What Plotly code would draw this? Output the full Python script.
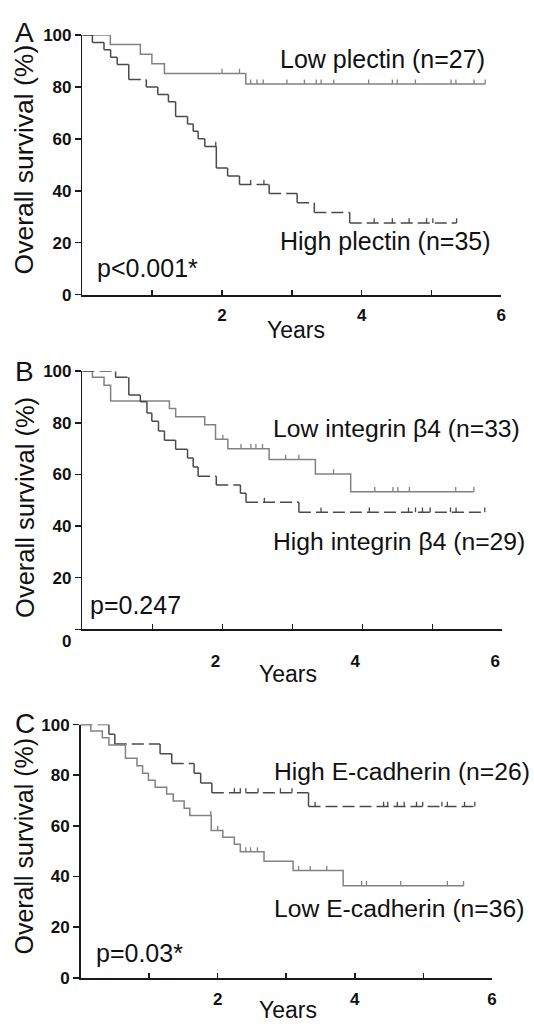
import plotly.graph_objects as go

W, H = 534, 1032

# ---------------- data (years, % survival) ----------------
# Panel A: plectin
A_low_t = [0.40, 0.83, 0.995, 1.175, 2.34]
A_low_s = [96.3, 92.6, 88.9, 85.2, 81.1]
A_low_end = 5.77
A_low_cens = [2.00, 2.25, 2.41, 2.50, 2.59, 2.93, 3.18, 3.35, 3.42, 3.60, 4.10,
              4.44, 4.51, 4.77, 5.28, 5.35, 5.61, 5.77]

A_high_t = [0.143, 0.309, 0.404, 0.498, 0.664, 0.915, 1.080, 1.232, 1.335, 1.506,
            1.587, 1.658, 1.753, 1.918, 2.08, 2.25, 2.675, 3.076, 3.322, 3.829]
A_high_s = [97.1, 94.3, 91.4, 88.6, 82.9, 80.0, 77.1, 74.3, 68.6, 65.7,
            62.9, 60.0, 57.1, 48.8, 45.7, 42.4, 39.0, 35.4, 31.6, 27.6]
A_high_end = 5.36
A_high_cens = [1.91, 2.41, 2.60, 4.18, 4.44, 4.68, 4.93, 5.02, 5.36]

# Panel B: integrin beta4
B_low_t = [0.143, 0.309, 0.403, 1.243, 1.333, 1.748, 1.902, 2.078, 2.668, 3.329, 3.834]
B_low_s = [97.7, 94.6, 88.5, 85.6, 82.4, 79.3, 73.6, 70.0, 65.8, 60.2, 53.3]
B_low_end = 5.594
B_low_cens = [2.007, 2.266, 2.408, 2.479, 2.574, 2.904, 3.093, 3.589, 4.178,
              4.438, 4.509, 4.673, 5.335, 5.594]

B_high_t = [0.474, 0.663, 0.828, 0.922, 0.992, 1.087, 1.172, 1.332, 1.502, 1.583,
            1.653, 1.913, 2.258, 2.338, 3.094]
B_high_s = [97.7, 90.8, 88.2, 83.8, 80.6, 76.8, 73.3, 69.8, 66.4, 62.9,
            59.3, 55.9, 52.7, 49.2, 45.4]
B_high_end = 5.75
B_high_cens = [2.60, 3.41, 4.10, 4.66, 4.76, 4.86, 4.97, 5.26, 5.34, 5.75]

# Panel C: E-cadherin
C_high_t = [0.414, 0.50, 1.16, 1.33, 1.656, 1.752, 1.915, 3.325]
C_high_s = [96.2, 92.3, 88.5, 84.6, 80.8, 76.9, 73.1, 67.7]
C_high_end = 5.75
C_high_cens = [2.243, 2.330, 2.411, 2.589, 2.915, 3.084, 3.42, 4.42, 4.48, 4.62,
               4.72, 4.90, 4.99, 5.27, 5.35, 5.60, 5.75]

C_low_t = [0.15, 0.318, 0.414, 0.655, 0.823, 0.905, 0.99, 1.088, 1.256, 1.352,
           1.511, 1.593, 1.906, 2.075, 2.243, 2.33, 2.676, 3.10, 3.83]
C_low_s = [97.5, 94.8, 91.9, 86.7, 83.7, 80.8, 78.0, 75.3, 72.6, 69.8,
           67.0, 64.1, 58.2, 55.5, 52.7, 49.8, 46.0, 42.4, 36.4]
C_low_end = 5.586
C_low_cens = [1.90, 2.00, 2.41, 2.48, 2.58, 3.18, 3.35, 3.59, 4.10, 4.17, 4.67, 5.35, 5.586]

x_tickvals = [1, 2, 3, 4, 5, 6]
x_ticktext = ["", "2", "", "4", "", "6"]
y_tickvals = [0, 20, 40, 60, 80, 100]

SOLID = "#828282"
DASHED = "#4a4a4a"
TXT = "#111111"
FONT = "Liberation Sans, Arial, sans-serif"

fig = go.Figure()


def step_value(t_ev, s_ev, t):
    v = 100.0
    for te, se in zip(t_ev, s_ev):
        if te <= t:
            v = se
    return v


def add_curve(t_ev, s_ev, t_end, cens, color, dashed, xa, ya, tick_h=1.8):
    common = dict(xaxis=xa, yaxis=ya, cliponaxis=False, showlegend=False, hoverinfo="skip")
    if dashed:
        hx, hy, vx, vy = [], [], [], []
        starts = [0.0] + t_ev
        ends = t_ev + [t_end]
        vals = [100.0] + s_ev
        for a, b, v in zip(starts, ends, vals):
            hx += [a, b, None]
            hy += [v, v, None]
        prev = 100.0
        for te, se in zip(t_ev, s_ev):
            vx += [te, te, None]
            vy += [prev, se, None]
            prev = se
        fig.add_trace(go.Scatter(x=hx, y=hy, mode="lines", connectgaps=False,
                                 line=dict(color=color, width=1.5, dash="12px,5px"), **common))
        fig.add_trace(go.Scatter(x=vx, y=vy, mode="lines", connectgaps=False,
                                 line=dict(color=color, width=1.5), **common))
    else:
        x = [0.0] + t_ev + [t_end]
        y = [100.0] + s_ev + [s_ev[-1]]
        fig.add_trace(go.Scatter(x=x, y=y, mode="lines",
                                 line=dict(color=color, width=1.5, shape="hv"), **common))
    cy = [step_value(t_ev, s_ev, c) for c in cens]
    fig.add_trace(go.Scatter(
        x=cens, y=cy, mode="markers",
        marker=dict(size=2, color="rgba(0,0,0,0)"),
        error_y=dict(type="data", symmetric=False, array=[tick_h] * len(cens),
                     arrayminus=[0] * len(cens), width=0, thickness=1.3, color=color),
        **common))


add_curve(A_low_t, A_low_s, A_low_end, A_low_cens, SOLID, False, "x", "y")
add_curve(A_high_t, A_high_s, A_high_end, A_high_cens, DASHED, True, "x", "y")
add_curve(B_low_t, B_low_s, B_low_end, B_low_cens, SOLID, False, "x2", "y2")
add_curve(B_high_t, B_high_s, B_high_end, B_high_cens, DASHED, True, "x2", "y2")
add_curve(C_high_t, C_high_s, C_high_end, C_high_cens, DASHED, True, "x3", "y3")
add_curve(C_low_t, C_low_s, C_low_end, C_low_cens, SOLID, False, "x3", "y3")

# panel geometry in pixels: (x_left, x_right, y_top, y_bottom)
geo = [(83.2, 506.0, 26.5, 291.0), (83.2, 507.0, 369.0, 632.0), (81.3, 496.6, 729.0, 987.0)]
x_standoff = [4, 15, 5]
x_shift = [0, -7, 0]

tickfont = dict(family=FONT, size=17, color=TXT, weight="bold")
for i, (xl, xr, yt, yb) in enumerate(geo):
    sfx = "" if i == 0 else str(i + 1)
    fig.layout["xaxis" + sfx] = dict(
        domain=[xl / W, xr / W], range=[0, 6], anchor="y" + sfx,
        tickvals=x_tickvals, ticktext=x_ticktext, ticks="inside", ticklen=5, tickwidth=1.5,
        tickcolor="#1a1a1a", showline=True, linecolor="#1a1a1a", linewidth=2,
        showgrid=False, zeroline=False, tickfont=tickfont,
        ticklabelstandoff=x_standoff[i], ticklabelshift=x_shift[i])
    fig.layout["yaxis" + sfx] = dict(
        domain=[1 - yb / H, 1 - yt / H], range=[0, 100], anchor="x" + sfx,
        tickvals=y_tickvals,
        ticktext=["", "20", "40", "60", "80", "100"] if i == 1 else [str(v) for v in y_tickvals],
        ticks="outside", ticklen=6, tickwidth=1.5, tickcolor="#1a1a1a",
        showline=True, linecolor="#1a1a1a", linewidth=1.5,
        showgrid=False, zeroline=False, tickfont=tickfont)


def ann(text, px, py, size=25, xanchor="left", yanchor="middle", angle=0, weight="normal"):
    fig.add_annotation(text=text, x=px / W, y=1 - py / H, xref="paper", yref="paper",
                       xanchor=xanchor, yanchor=yanchor, showarrow=False, textangle=angle,
                       font=dict(family=FONT, size=size, color=TXT, weight=weight))


# curve labels & p-values
ann("Low plectin (n=27)", 281, 51)
ann("High plectin (n=35)", 281, 236)
ann("p<0.001*", 96, 263.5)
ann("Low integrin β4 (n=33)", 274, 427, size=24.7)
ann("High integrin β4 (n=29)", 274, 542, size=24.7)
ann("p=0.247", 89, 607)
ann("High E-cadherin (n=26)", 275, 777, size=24.7)
ann("Low E-cadherin (n=36)", 275, 916, size=24.7)
ann("p=0.03*", 95, 962)

# panel letters
ann("A", 25, 24, size=28, xanchor="center")
ann("B", 25, 369, size=28, xanchor="center")
ann("C", 25, 728, size=28, xanchor="center")

# axis titles
ann("Overall survival (%)", 24.5, 153, size=26.5, xanchor="center", angle=-90)
ann("Overall survival (%)", 24.5, 508, size=25.5, xanchor="center", angle=-90)
ann("Overall survival (%)", 24.5, 853, size=25, xanchor="center", angle=-90)
ann("Years", 299, 327, size=23, xanchor="center")
ann("Years", 291, 677, size=23, xanchor="center")
ann("Years", 291, 1020, size=23, xanchor="center")

# displaced zero label of panel B
ann("0", 73.5, 644, size=17, xanchor="right", weight="bold")

fig.update_layout(width=W, height=H, margin=dict(l=0, r=0, t=0, b=0),
                  paper_bgcolor="white", plot_bgcolor="white", showlegend=False)

fig.write_html("out.html", config={"displayModeBar": False, "staticPlot": True},
               post_script="document.body.style.margin='0px';document.body.style.padding='0px';")
